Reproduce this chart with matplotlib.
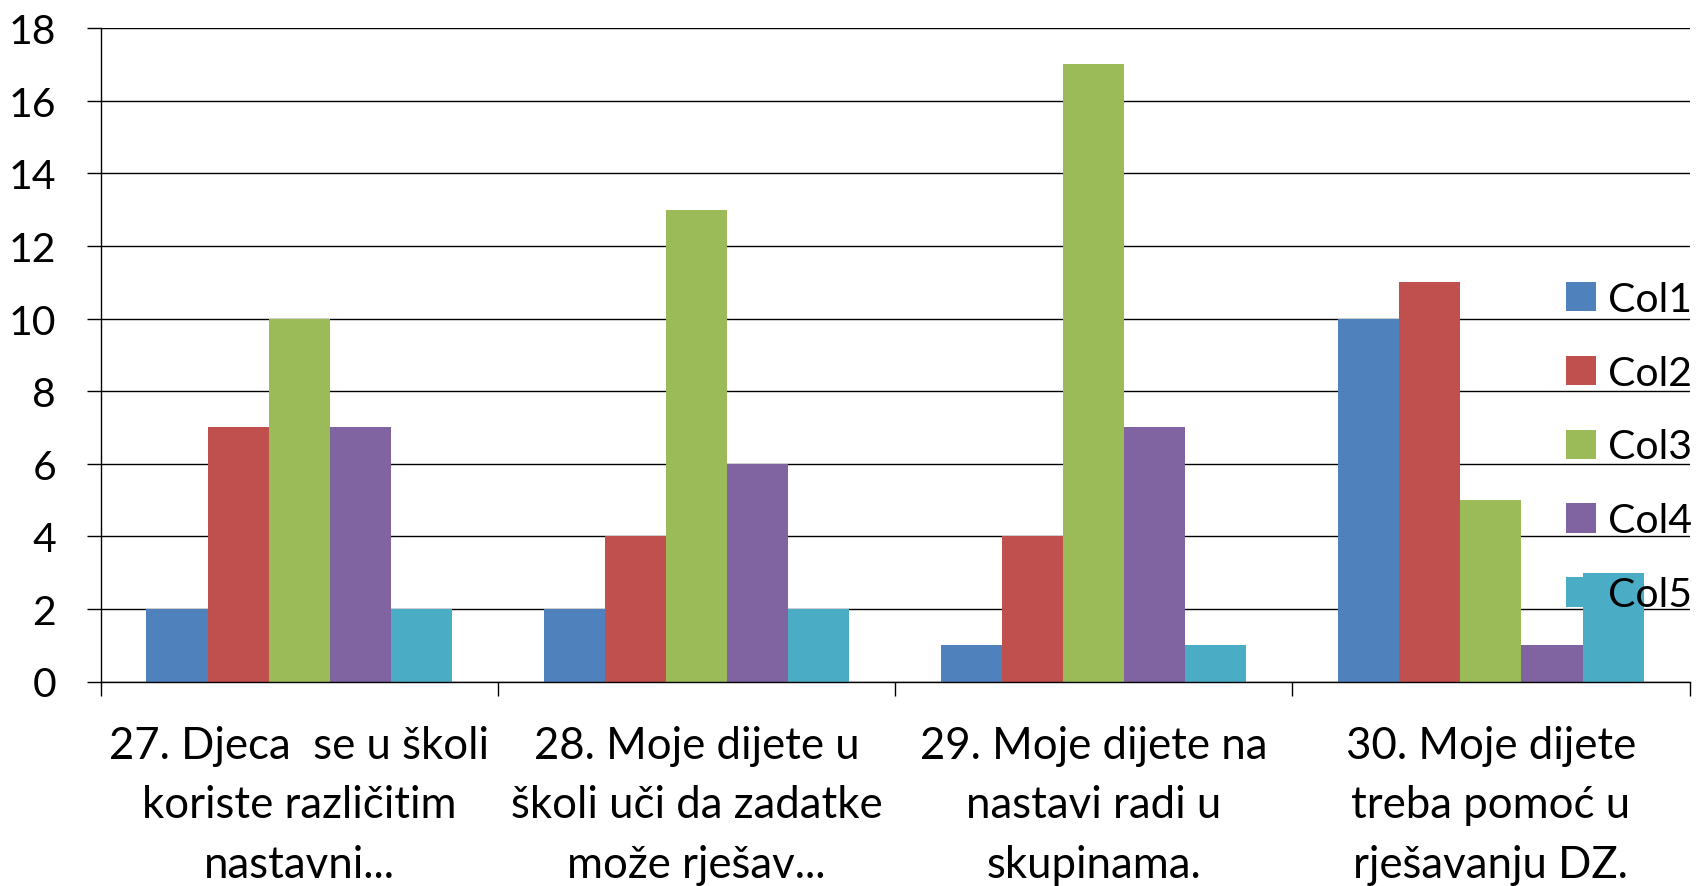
import matplotlib
matplotlib.use("Agg")
import matplotlib.pyplot as plt
import numpy as np

categories = [
    "27. Djeca  se u školi\nkoriste različitim\nnastavni...",
    "28. Moje dijete u\nškoli uči da zadatke\nmože rješav...",
    "29. Moje dijete na\nnastavi radi u\nskupinama.",
    "30. Moje dijete\ntreba pomoć u\nrješavanju DZ.",
]
series_names = ["Col1", "Col2", "Col3", "Col4", "Col5"]
col1 = [2, 2, 1, 10]
col2 = [7, 4, 4, 11]
col3 = [10, 13, 17, 5]
col4 = [7, 6, 7, 1]
col5 = [2, 2, 1, 3]
series_values = [col1, col2, col3, col4, col5]
colors = ["#4F81BD", "#C0504D", "#9BBB59", "#8064A2", "#4BACC6"]
y_ticks = [0, 2, 4, 6, 8, 10, 12, 14, 16, 18]

plt.rcParams['font.family'] = ['Lato', 'DejaVu Sans']
FS = 29.5
FS_X = 31.5

fig = plt.figure(figsize=(16.96, 8.87), dpi=100)
ax = fig.add_axes([100.6/1696, 1-682.5/887, (1689.5-100.6)/1696, (682.5-29.2)/887])

n = len(series_values)
bw = 1/6.5
x = np.arange(len(categories))
for i, (name, vals) in enumerate(zip(series_names, series_values)):
    ax.bar(x + (i - (n-1)/2)*bw, vals, width=bw, color=colors[i], label=name,
           zorder=3, linewidth=0)

ax.set_xlim(-0.5, len(categories)-0.5)
ax.set_ylim(0, 18)
ax.set_yticks(y_ticks)
ax.set_yticklabels([str(v) for v in y_ticks], fontsize=FS)
ax.yaxis.grid(True, color='black', linewidth=1.0, zorder=1)
ax.set_axisbelow(True)
ax.tick_params(axis='y', length=10, width=1.0, pad=22, color='black')

ax.set_xticks(np.arange(-0.5, len(categories)), minor=False)
ax.set_xticklabels([])
ax.set_xticks(x, minor=True)
ax.set_xticklabels(categories, minor=True, fontsize=FS_X, linespacing=1.56)
ax.tick_params(axis='x', which='major', length=10, width=1.0, color='black')
ax.tick_params(axis='x', which='minor', length=0, pad=31)

for s in ['top', 'right']:
    ax.spines[s].set_visible(False)
for s in ['left', 'bottom']:
    ax.spines[s].set_linewidth(1.0)
    ax.spines[s].set_zorder(4)

leg = ax.legend(loc='center left', bbox_to_anchor=(1566/1696, 1-448/887),
                bbox_transform=fig.transFigure, frameon=False, fontsize=FS,
                handlelength=0.72, handleheight=0.72, handletextpad=0.3,
                labelspacing=0.9, borderpad=0, borderaxespad=0)
leg.set_zorder(5)

fig.savefig("out.png", dpi=100)
